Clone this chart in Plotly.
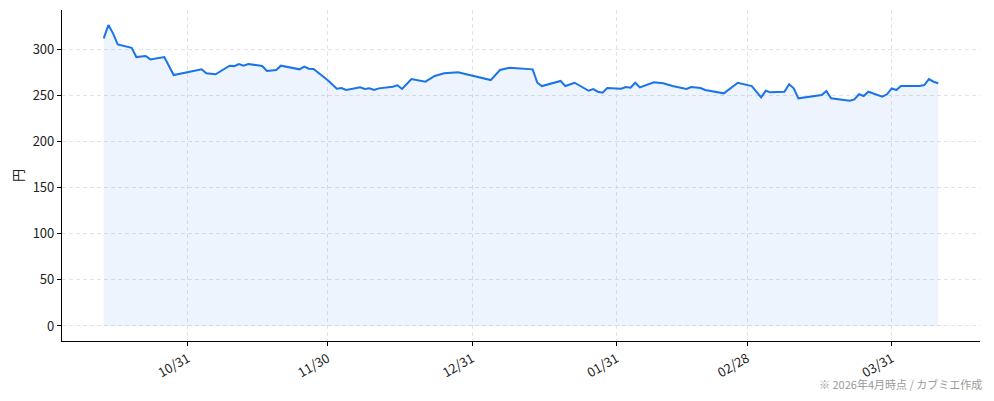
import pandas as pd
import plotly.graph_objects as go

# Price series (dates / closing prices in yen)
dates = [
    "2025-10-13", "2025-10-14", "2025-10-15", "2025-10-16", "2025-10-19",
    "2025-10-20", "2025-10-22", "2025-10-23", "2025-10-26", "2025-10-28",
    "2025-11-03", "2025-11-04", "2025-11-06", "2025-11-09", "2025-11-10",
    "2025-11-11", "2025-11-12", "2025-11-13", "2025-11-16", "2025-11-17",
    "2025-11-19", "2025-11-20", "2025-11-24", "2025-11-25", "2025-11-26",
    "2025-11-27", "2025-11-30", "2025-12-01", "2025-12-02", "2025-12-03",
    "2025-12-04", "2025-12-07", "2025-12-08", "2025-12-09", "2025-12-10",
    "2025-12-11", "2025-12-14", "2025-12-15", "2025-12-16", "2025-12-18",
    "2025-12-21", "2025-12-23", "2025-12-25", "2025-12-28", "2026-01-04",
    "2026-01-06", "2026-01-08", "2026-01-13", "2026-01-14", "2026-01-15",
    "2026-01-19", "2026-01-20", "2026-01-22", "2026-01-25", "2026-01-26",
    "2026-01-27", "2026-01-28", "2026-01-29", "2026-02-01", "2026-02-02",
    "2026-02-03", "2026-02-04", "2026-02-05", "2026-02-08", "2026-02-10",
    "2026-02-12", "2026-02-15", "2026-02-16", "2026-02-18", "2026-02-19",
    "2026-02-23", "2026-02-26", "2026-03-01", "2026-03-03", "2026-03-04",
    "2026-03-05", "2026-03-08", "2026-03-09", "2026-03-10", "2026-03-11",
    "2026-03-16", "2026-03-17", "2026-03-18", "2026-03-22", "2026-03-23",
    "2026-03-24", "2026-03-25", "2026-03-26", "2026-03-29", "2026-03-30",
    "2026-03-31", "2026-04-01", "2026-04-02", "2026-04-06", "2026-04-07",
    "2026-04-08", "2026-04-09", "2026-04-10",
]
prices = [
    311.6, 326.0, 317.0, 305.0, 301.4,
    291.3, 292.4, 288.8, 291.3, 271.8,
    278.0, 273.7, 272.6, 281.9, 281.5,
    283.8, 282.0, 283.8, 281.6, 276.2,
    277.3, 282.0, 278.0, 280.9, 278.7,
    278.4, 266.4, 262.1, 257.0, 257.8,
    255.6, 258.5, 256.7, 257.4, 255.6,
    257.4, 259.2, 260.7, 256.7, 267.5,
    264.6, 270.8, 273.7, 274.8, 266.4,
    277.3, 279.8, 278.0, 263.5, 259.9,
    265.4, 259.9, 263.5, 254.8, 256.7,
    253.8, 252.7, 257.8, 257.0, 258.8,
    258.1, 263.5, 258.5, 263.9, 262.9,
    259.9, 256.7, 258.8, 257.8, 255.6,
    252.0, 263.5, 259.9, 247.6, 254.8,
    253.1, 253.8, 261.8, 257.4, 246.6,
    250.2, 254.5, 246.6, 244.0, 245.5,
    251.0, 249.1, 253.8, 248.4, 251.0,
    257.4, 255.6, 259.9, 259.9, 261.0,
    267.5, 264.6, 262.9,
]
tick_dates = ["2025-10-31", "2025-11-30", "2025-12-31", "2026-01-31", "2026-02-28", "2026-03-31"]
tick_labels = ["10/31", "11/30", "12/31", "01/31", "02/28", "03/31"]
y_label = "円"
footnote = "※ 2026年4月時点 / カブミエ作成"

LINE = "#1a73e8"
FONT = "Noto Sans CJK JP"

x = pd.to_datetime(dates)
span = x.max() - x.min()
x_range = [x.min() - span * 0.05, x.max() + span * 0.05]
y_top = max(prices)
y_range = [-y_top * 0.05, y_top * 1.05]

fig = go.Figure()
# shaded area under the line (down to zero)
fig.add_trace(go.Scatter(
    x=x, y=prices, mode="lines", fill="tozeroy",
    line=dict(color="rgba(26,115,232,0.10)", width=1),
    fillcolor="rgba(26,115,232,0.08)", hoverinfo="skip", showlegend=False))
fig.add_trace(go.Scatter(
    x=x, y=prices, mode="lines",
    line=dict(color=LINE, width=2), showlegend=False))

axis_style = dict(showgrid=True, gridcolor="#e3e3e3", griddash="4px,3px", gridwidth=1,
                  zeroline=False, showline=True, linecolor="black", linewidth=1.2,
                  ticks="outside", ticklen=4, tickcolor="black",
                  tickfont=dict(size=13, color="#222222", family=FONT))

fig.update_xaxes(range=x_range, tickvals=pd.to_datetime(tick_dates), ticktext=tick_labels,
                 tickangle=-30, automargin=False, **axis_style)
fig.update_yaxes(range=y_range, tickvals=[0, 50, 100, 150, 200, 250, 300], automargin=False,
                 title=dict(text=y_label, font=dict(size=13, color="#222222", family=FONT),
                            standoff=10), **axis_style)

fig.add_annotation(text=footnote, xref="paper", yref="paper", x=1.0044, y=-0.13,
                   xanchor="right", yanchor="middle", showarrow=False,
                   font=dict(size=11, color="#999999", family=FONT))

# the page body adds an 8px offset, so the figure is sized/margined to land on the reference
fig.update_layout(
    width=986, height=393,
    margin=dict(l=54, r=14, t=2, b=60),
    paper_bgcolor="white", plot_bgcolor="white",
    font=dict(family=FONT),
)

fig.write_html("out.html")
